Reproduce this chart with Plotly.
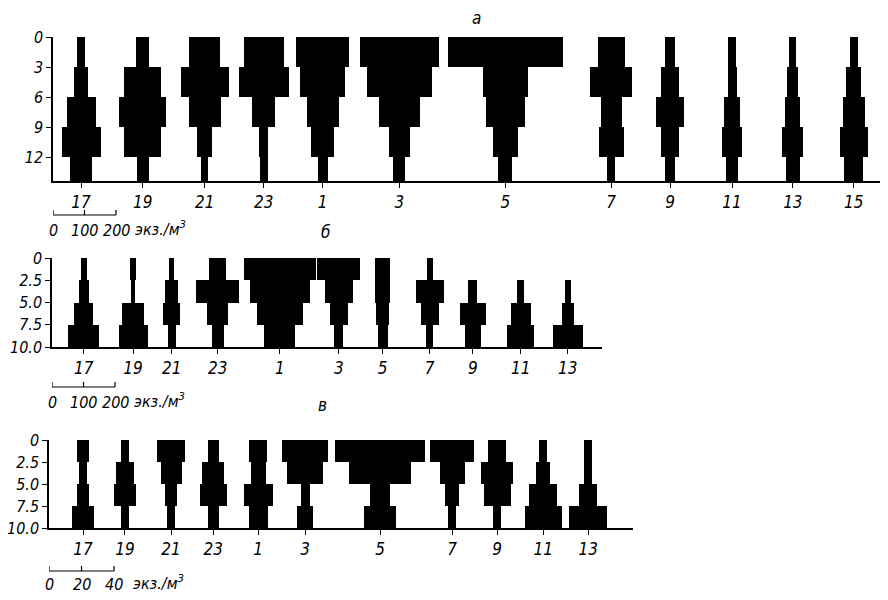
import plotly.graph_objects as go

# sampling hours along each transect
hours_a = [17, 19, 21, 23, 1, 3, 5, 7, 9, 11, 13, 15]
hours_b = [17, 19, 21, 23, 1, 3, 5, 7, 9, 11, 13]
hours_c = [17, 19, 21, 23, 1, 3, 5, 7, 9, 11, 13]

# depth layer boundaries, m
layers_a = [0, 3, 6, 9, 12, 14.4]
layers_b = [0, 2.5, 5.0, 7.5, 10.0]
layers_c = [0, 2.5, 5.0, 7.5, 10.0]

# abundance, ind./m3, one row per hour, layers from surface to bottom
abund_a = [
    [25, 47, 92, 124, 70],
    [41, 117, 149, 117, 38],
    [98, 152, 101, 48, 22],
    [127, 159, 73, 29, 25],
    [168, 143, 101, 73, 32],
    [250, 206, 130, 67, 38],
    [365, 143, 124, 79, 44],
    [86, 133, 67, 79, 25],
    [29, 57, 86, 60, 29],
    [25, 29, 51, 63, 38],
    [22, 35, 48, 67, 44],
    [25, 48, 70, 89, 60],
]
abund_b = [
    [19, 32, 60, 98],
    [22, 13, 70, 92],
    [16, 41, 54, 25],
    [54, 136, 67, 38],
    [228, 190, 146, 98],
    [136, 89, 57, 29],
    [48, 48, 41, 32],
    [19, 89, 57, 22],
    [0, 29, 82, 51],
    [0, 22, 63, 86],
    [0, 19, 38, 95],
]
abund_c = [
    [6.8, 4.9, 7.4, 13.5],
    [4.9, 11.1, 14.1, 5.5],
    [17.8, 12.9, 6.8, 5.5],
    [6.8, 13.5, 16.6, 6.8],
    [11.1, 9.2, 17.8, 11.7],
    [28.3, 22.1, 5.5, 9.8],
    [55.4, 38.1, 12.3, 19.7],
    [27.1, 15.4, 8.6, 4.9],
    [11.1, 19.7, 16.6, 4.9],
    [4.9, 8.6, 17.2, 22.8],
    [4.9, 4.9, 11.1, 23.4],
]

# scale bar values, ind./m3
scale_ab = [0, 100, 200]
scale_c = [0, 20, 40]

# --- layout: where each kite sits along the axis (axis units = ind./m3)
centers_a = [89, 285, 482, 669, 856, 1100, 1436, 1772, 1959, 2156, 2349, 2542]
centers_b = [101, 257, 380, 526, 723, 910, 1049, 1198, 1335, 1487, 1636]
centers_c = [20.9, 46.7, 75.0, 100.9, 128.5, 157.4, 203.6, 247.8, 275.5, 303.8, 331.5]

FONT = 'DejaVu Sans Condensed, Liberation Sans Narrow, sans-serif'

# the page puts the figure 8px in from the top-left corner
OFF = 8
W, H = 888 - OFF, 600 - OFF


def px(x):
    return (x - OFF) / W


def py(y):
    return 1 - (y - OFF) / H


panels = [
    dict(hours=hours_a, layers=layers_a, abund=abund_a, centers=centers_a,
         xrange=[0, 2651], xdom=[px(53), 1.0], ydom=[py(181), py(37)],
         yticks=[0, 3, 6, 9, 12], yticktext=['0', '3', '6', '9', '12'],
         scale=scale_ab, bar_y=py(215), lab_y=py(230),
         letter='а', letter_xy=(px(476), py(18))),
    dict(hours=hours_b, layers=layers_b, abund=abund_b, centers=centers_b,
         xrange=[0, 1745], xdom=[px(52), px(602)], ydom=[py(347), py(258)],
         yticks=[0, 2.5, 5, 7.5, 10], yticktext=['0', '2.5', '5.0', '7.5', '10.0'],
         scale=scale_ab, bar_y=py(387), lab_y=py(402),
         letter='б', letter_xy=(px(325), py(232))),
    dict(hours=hours_c, layers=layers_c, abund=abund_c, centers=centers_c,
         xrange=[0, 359], xdom=[px(49), px(633)], ydom=[py(528), py(440)],
         yticks=[0, 2.5, 5, 7.5, 10], yticktext=['0', '2.5', '5.0', '7.5', '10.0'],
         scale=scale_c, bar_y=py(571), lab_y=py(584),
         letter='в', letter_xy=(px(322), py(405))),
]

fig = go.Figure()
shapes = []
annotations = []

for i, p in enumerate(panels):
    n = '' if i == 0 else str(i + 1)
    xa, ya = 'x' + n, 'y' + n
    layers = p['layers']
    mids = [(layers[k] + layers[k + 1]) / 2 for k in range(len(layers) - 1)]
    thick = [layers[k + 1] - layers[k] for k in range(len(layers) - 1)]

    # one kite per sampling hour: symmetric bars around the hour position
    for c, row in zip(p['centers'], p['abund']):
        fig.add_trace(go.Bar(
            orientation='h',
            y=mids,
            x=row,
            base=[c - v / 2 for v in row],
            width=thick,
            marker=dict(color='black', line=dict(width=0)),
            xaxis=xa, yaxis=ya,
            showlegend=False,
            hoverinfo='skip',
        ))

    axis_common = dict(showline=True, linecolor='black', linewidth=1.5,
                       showgrid=False, zeroline=False, ticks='outside',
                       tickcolor='black', tickwidth=1.2, automargin=False)
    fig.update_layout(**{
        'xaxis' + n: dict(domain=p['xdom'], range=p['xrange'], anchor=ya,
                          tickmode='array', tickvals=p['centers'],
                          ticktext=[str(h) for h in p['hours']], ticklen=5,
                          tickfont=dict(family=FONT, size=17, color='black', style='italic'),
                          **axis_common),
        'yaxis' + n: dict(domain=p['ydom'], range=[layers[-1], 0], anchor=xa,
                          tickmode='array', tickvals=p['yticks'],
                          ticktext=p['yticktext'], ticklen=5,
                          tickfont=dict(family=FONT, size=16, color='black', style='italic'),
                          **axis_common),
    })

    # scale bar under the panel
    s = p['scale']
    shapes.append(dict(type='line', xref=xa, yref='paper', x0=s[0], x1=s[-1],
                       y0=p['bar_y'], y1=p['bar_y'], line=dict(color='black', width=1.2)))
    for v in s:
        shapes.append(dict(type='line', xref=xa, yref='paper', x0=v, x1=v,
                           y0=p['bar_y'], y1=p['bar_y'] + 5 / H,
                           line=dict(color='black', width=1.2)))
        annotations.append(dict(xref=xa, yref='paper', x=v, y=p['lab_y'],
                                text=str(v), showarrow=False,
                                xanchor='center', yanchor='middle',
                                font=dict(family=FONT, size=16, style='italic')))
    annotations.append(dict(xref=xa, yref='paper', x=s[-1], y=p['lab_y'],
                            xshift=17, yshift=2, text='экз./м<sup>3</sup>', showarrow=False,
                            xanchor='left', yanchor='middle',
                            font=dict(family=FONT, size=16, style='italic')))
    annotations.append(dict(xref='paper', yref='paper', x=p['letter_xy'][0],
                            y=p['letter_xy'][1], text=p['letter'], showarrow=False,
                            xanchor='center', yanchor='middle',
                            font=dict(family=FONT, size=17, style='italic')))

fig.update_layout(
    template='none',
    width=W, height=H,
    margin=dict(t=0, b=0, l=0, r=0, autoexpand=False),
    barmode='overlay',
    bargap=0,
    plot_bgcolor='white',
    paper_bgcolor='white',
    shapes=shapes,
    annotations=annotations,
    font=dict(family=FONT, color='black'),
)

fig.write_html("out.html")
